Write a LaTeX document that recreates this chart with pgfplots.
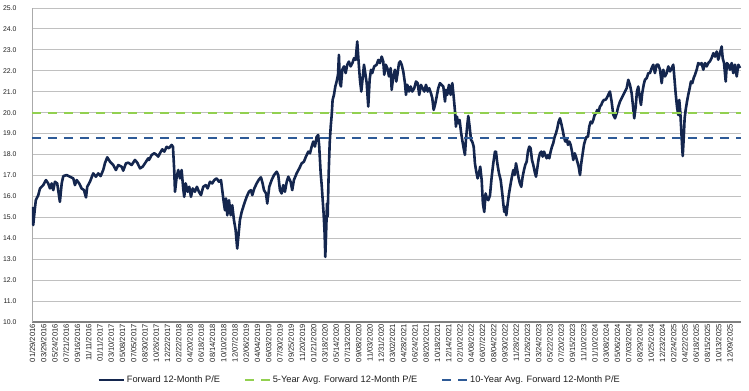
\documentclass[border=0pt]{standalone}
\usepackage{pgfplots}
\pgfplotsset{compat=1.18}
\usepackage{fontspec}
\setmainfont{Liberation Sans}
\definecolor{pe}{RGB}{20,38,78}
\definecolor{fiveyr}{RGB}{146,208,80}
\definecolor{tenyr}{RGB}{46,90,150}
\definecolor{gridc}{RGB}{192,192,192}
\definecolor{txt}{RGB}{30,30,30}
\begin{document}
\begin{tikzpicture}
\begin{axis}[
  name=main,
  scale only axis,
  width=709bp, height=314bp,
  xmin=-0.04, xmax=62.98,
  ymin=10, ymax=25,
  ytick={10,11,...,25},
  xtick={0,1,...,62},
  xticklabels={01/29/2016,03/29/2016,05/24/2016,07/21/2016,09/16/2016,11/11/2016,
  01/11/2017,03/10/2017,05/08/2017,07/05/2017,08/30/2017,10/26/2017,12/22/2017,
  02/22/2018,04/20/2018,06/18/2018,08/14/2018,10/10/2018,12/07/2018,
  02/06/2019,04/04/2019,06/03/2019,07/30/2019,09/25/2019,11/20/2019,
  01/21/2020,03/18/2020,05/14/2020,07/13/2020,09/08/2020,11/03/2020,12/31/2020,
  03/02/2021,04/28/2021,06/24/2021,08/20/2021,10/18/2021,12/14/2021,
  02/10/2022,04/08/2022,06/07/2022,08/04/2022,09/30/2022,11/28/2022,
  01/26/2023,03/24/2023,05/22/2023,07/20/2023,09/15/2023,11/10/2023,
  01/10/2024,03/08/2024,05/06/2024,07/03/2024,08/29/2024,10/25/2024,12/23/2024,
  02/24/2025,04/22/2025,06/18/2025,08/15/2025,10/13/2025,12/09/2025},
  xticklabel style={rotate=90, anchor=east, font=\fontsize{7.6}{8}\selectfont, text=txt, inner sep=2pt},
  yticklabel style={anchor=east, xshift=-12bp, font=\fontsize{6.9}{8}\selectfont, text=txt},
  /pgf/number format/.cd, fixed, fixed zerofill, precision=1, assume math mode=true,
  /pgfplots/.cd,
  major tick length=0pt,
  ymajorgrids,
  grid style={gridc, line width=0.9bp},
  axis x line*=bottom,
  axis y line*=left,
  x axis line style={draw={rgb,255:red,128;green,128;blue,128}, line width=2.6bp, -},
  y axis line style={draw={rgb,255:red,170;green,170;blue,170}, line width=0.8bp, -},
  legend columns=3,
  legend style={at={(axis description cs:0.462,-0.185)}, anchor=center, draw=none, fill=none,
    font=\fontsize{9.3}{10}\selectfont, text=txt,
    /tikz/every even column/.append style={column sep=22bp}},
  legend image code/.code={\draw[#1] (0bp,0bp) -- (25bp,0bp);},
]
\addplot[pe, line width=2.6bp, line join=round] coordinates {
(0.00,15.50) (0.07,14.63) (0.20,15.34) (0.30,15.82) (0.52,16.06) (0.67,16.38) (0.96,16.54) (1.20,16.78) (1.40,16.62) (1.56,16.38) (1.71,16.62) (1.85,16.30) (2.00,16.70) (2.20,16.62) (2.44,15.74) (2.60,16.62) (2.74,16.97) (3.04,17.02) (3.33,16.94) (3.63,16.86) (3.78,16.54) (3.93,16.78) (4.16,16.62) (4.37,16.38) (4.58,16.30) (4.76,15.95) (4.87,16.46) (5.11,16.70) (5.40,17.10) (5.64,16.94) (5.85,17.10) (6.06,16.97) (6.29,17.26) (6.44,17.58) (6.65,17.87) (6.89,17.66) (7.18,17.50) (7.42,17.26) (7.63,17.50) (7.93,17.42) (8.07,17.23) (8.31,17.58) (8.52,17.61) (8.82,17.50) (9.11,17.74) (9.32,17.61) (9.56,17.34) (9.80,17.42) (10.00,17.58) (10.29,17.82)
(10.36,17.74) (10.60,17.98) (10.83,18.06) (11.04,17.98) (11.18,17.90) (11.33,18.06) (11.54,18.25) (11.72,18.14) (11.93,18.37) (12.13,18.30) (12.37,18.46) (12.49,18.37) (12.60,17.26) (12.67,16.22) (12.82,16.94) (12.96,17.26) (13.11,16.86) (13.26,17.26) (13.40,16.38) (13.49,15.98) (13.62,16.62) (13.80,16.22) (13.94,16.46) (14.09,15.98) (14.24,16.38) (14.44,16.22) (14.62,16.46) (14.80,16.22) (14.98,16.06) (15.18,16.46) (15.40,16.54) (15.57,16.38) (15.78,16.70) (15.98,16.62) (16.16,16.78) (16.37,16.86) (16.58,16.70) (16.76,16.78) (16.87,16.30) (17.00,15.74) (17.11,15.34) (17.20,15.90) (17.32,15.10) (17.47,15.82) (17.62,15.10) (17.76,15.58) (17.91,14.87) (18.06,14.39) (18.20,13.51) (18.33,14.23) (18.44,14.87) (18.60,15.26) (18.83,15.66) (19.04,15.98) (19.24,16.22) (19.42,16.30) (19.54,16.06) (19.72,16.38) (19.93,16.62) (20.13,16.81) (20.31,16.91) (20.46,16.62)
(20.58,16.30) (20.76,16.14) (20.87,15.66) (21.05,16.46) (21.26,16.78) (21.47,17.02) (21.71,17.18) (21.85,17.02) (22.00,16.30) (22.15,16.14) (22.29,16.54) (22.44,16.22) (22.60,16.70) (22.74,16.94) (22.95,16.70) (23.09,16.30) (23.24,16.78) (23.48,17.10) (23.72,17.34) (23.93,17.58) (24.13,17.66) (24.31,17.90) (24.52,18.14) (24.67,18.06) (24.82,18.38) (24.96,18.62) (25.11,18.38) (25.26,18.85) (25.40,18.93) (25.49,18.38) (25.62,17.10) (25.71,16.54) (25.80,15.82) (25.88,15.18) (25.97,14.23) (26.03,13.11) (26.12,14.55) (26.18,15.66) (26.24,15.03) (26.33,17.10) (26.42,18.54) (26.51,19.33) (26.60,19.89) (26.68,20.61) (26.80,20.85) (26.92,21.25) (27.04,21.49) (27.16,21.81) (27.24,22.76) (27.33,21.41) (27.42,21.25) (27.54,22.05) (27.69,22.21) (27.84,21.89) (27.98,22.29) (28.13,22.44) (28.28,22.21) (28.43,22.36) (28.58,22.60) (28.73,22.52) (28.87,23.40) (29.00,22.36) (29.11,21.57) (29.23,21.01) (29.35,21.65) (29.47,22.29) (29.58,21.89) (29.71,21.41) (29.85,20.29) (29.97,21.57) (30.09,22.05) (30.20,21.89) (30.38,22.21)
(30.60,22.29) (30.74,22.52) (30.89,22.37) (31.04,22.68) (31.18,22.45) (31.27,21.81) (31.40,22.29) (31.54,22.13) (31.69,21.73) (31.84,22.13) (31.93,21.09) (32.07,21.73) (32.22,22.05) (32.34,21.49) (32.46,21.89) (32.58,22.37) (32.69,22.45) (32.82,22.29) (32.96,21.97) (33.11,21.41) (33.20,20.85) (33.32,21.33) (33.47,21.01) (33.62,21.25) (33.76,21.01) (33.94,21.17) (34.09,21.49) (34.24,21.41) (34.38,20.85) (34.53,21.33) (34.68,21.17) (34.83,21.01) (34.98,21.33) (35.13,21.01) (35.27,21.17) (35.42,20.93) (35.54,20.69) (35.66,20.13) (35.78,20.37) (35.93,20.77) (36.07,21.17) (36.22,21.41) (36.37,21.33) (36.52,21.25) (36.67,20.53) (36.76,21.09) (36.87,20.85) (37.02,21.33) (37.17,20.85) (37.32,21.41) (37.44,20.77) (37.56,20.05) (37.64,19.33) (37.73,19.81) (37.85,19.49) (37.97,19.65) (38.09,19.09) (38.20,18.70) (38.33,18.30) (38.44,17.98) (38.53,18.70) (38.65,19.41) (38.74,19.84) (38.86,19.33) (38.98,18.70) (39.09,18.62) (39.22,18.38) (39.33,17.58) (39.45,17.18) (39.57,16.86) (39.69,17.10) (39.80,17.42) (39.93,16.78) (40.04,15.66) (40.16,15.26) (40.28,16.14) (40.40,15.90) (40.52,15.82) (40.67,16.06) (40.82,16.94) (40.96,17.58) (41.11,18.14)
(41.20,18.14) (41.32,17.58) (41.47,17.10) (41.62,16.78) (41.76,16.14) (41.85,15.66) (41.94,15.26) (42.03,15.50) (42.12,15.10) (42.24,15.66) (42.36,16.14) (42.51,16.62) (42.62,16.94) (42.74,17.26) (42.86,17.02) (42.98,17.58) (43.09,17.26) (43.22,16.86) (43.33,16.62) (43.45,16.46) (43.57,16.94) (43.69,17.26) (43.80,17.50) (43.93,17.66) (44.04,18.14) (44.16,18.38) (44.28,18.30) (44.40,17.74) (44.52,17.50) (44.64,17.18) (44.76,16.94) (44.87,17.34) (45.00,17.82) (45.11,18.06) (45.23,18.14) (45.35,17.90) (45.47,18.14) (45.58,17.98) (45.71,17.82) (45.82,17.98) (45.94,17.82) (46.06,18.14) (46.18,18.38) (46.29,18.54) (46.42,18.85) (46.53,19.01) (46.65,19.25) (46.77,19.57) (46.89,19.73) (47.00,19.49) (47.13,19.17) (47.24,18.85) (47.36,18.62) (47.48,18.78) (47.60,18.46) (47.72,18.62) (47.84,18.46) (47.96,18.14) (48.07,17.74) (48.20,18.06) (48.31,17.90) (48.43,17.66) (48.55,17.42) (48.67,17.02) (48.78,17.58) (48.91,18.06) (49.02,18.46) (49.14,18.70) (49.26,18.85) (49.38,18.85) (49.49,19.33) (49.62,19.57) (49.73,19.49) (49.85,19.65) (49.97,19.89) (50.09,19.97) (50.20,20.13) (50.33,20.05) (50.44,20.29) (50.56,20.37) (50.68,20.53) (50.80,20.61) (50.92,20.61) (51.04,20.69) (51.18,20.85) (51.33,21.01)
(51.48,20.53) (51.63,19.89) (51.78,19.73) (51.93,19.97) (52.07,20.29) (52.22,20.53) (52.37,20.69) (52.52,20.85) (52.67,21.01) (52.82,21.17) (52.96,21.57) (53.11,21.33) (53.26,20.93) (53.40,20.21) (53.49,19.73) (53.62,20.29) (53.73,21.01) (53.85,21.25) (53.97,20.77) (54.09,20.37) (54.20,20.93) (54.33,21.33) (54.44,21.57) (54.60,21.65) (54.74,21.89) (54.89,21.89) (55.04,22.13) (55.18,22.29) (55.33,21.89) (55.48,22.29) (55.63,22.29) (55.78,22.05) (55.93,21.41) (56.07,22.05) (56.22,21.73) (56.37,21.89) (56.52,22.21) (56.67,21.97) (56.82,22.13) (56.96,22.29) (57.05,21.73) (57.17,20.93) (57.29,20.29) (57.40,19.89) (57.49,20.61) (57.58,20.05) (57.67,19.17) (57.73,18.54) (57.80,17.93) (57.88,18.70) (57.97,19.73) (58.06,20.13) (58.18,20.53) (58.29,20.85) (58.42,21.17) (58.53,21.49) (58.65,21.41) (58.77,21.65) (58.89,21.81) (59.04,22.05) (59.18,22.37) (59.33,22.29) (59.48,22.37) (59.63,22.05) (59.78,22.37) (59.93,22.21) (60.07,22.37) (60.22,22.45) (60.37,22.61) (60.52,22.84) (60.67,22.68) (60.82,22.92) (60.96,22.53) (61.11,22.84) (61.26,23.16) (61.35,22.61) (61.47,22.37) (61.62,21.49) (61.73,22.37) (61.85,22.29) (62.00,22.05) (62.15,22.37) (62.29,21.89) (62.44,22.29) (62.60,21.73) (62.74,22.29) (62.89,22.13)
};
\addlegendentry{Forward 12-Month P/E}
\addplot[fiveyr, line width=1.8bp, dash pattern=on 9bp off 7bp] coordinates {(-0.04,19.97) (62.98,19.97)};
\addlegendentry{5-Year Avg. Forward 12-Month P/E}
\addplot[tenyr, line width=1.8bp, dash pattern=on 9bp off 7bp] coordinates {(-0.04,18.78) (62.98,18.78)};
\addlegendentry{10-Year Avg. Forward 12-Month P/E}
\end{axis}
\pgfresetboundingbox
\path[use as bounding box] ([shift={(-32bp,-69bp)}]main.south west) rectangle ([shift={(8bp,8bp)}]main.north east);
\end{tikzpicture}
\end{document}
